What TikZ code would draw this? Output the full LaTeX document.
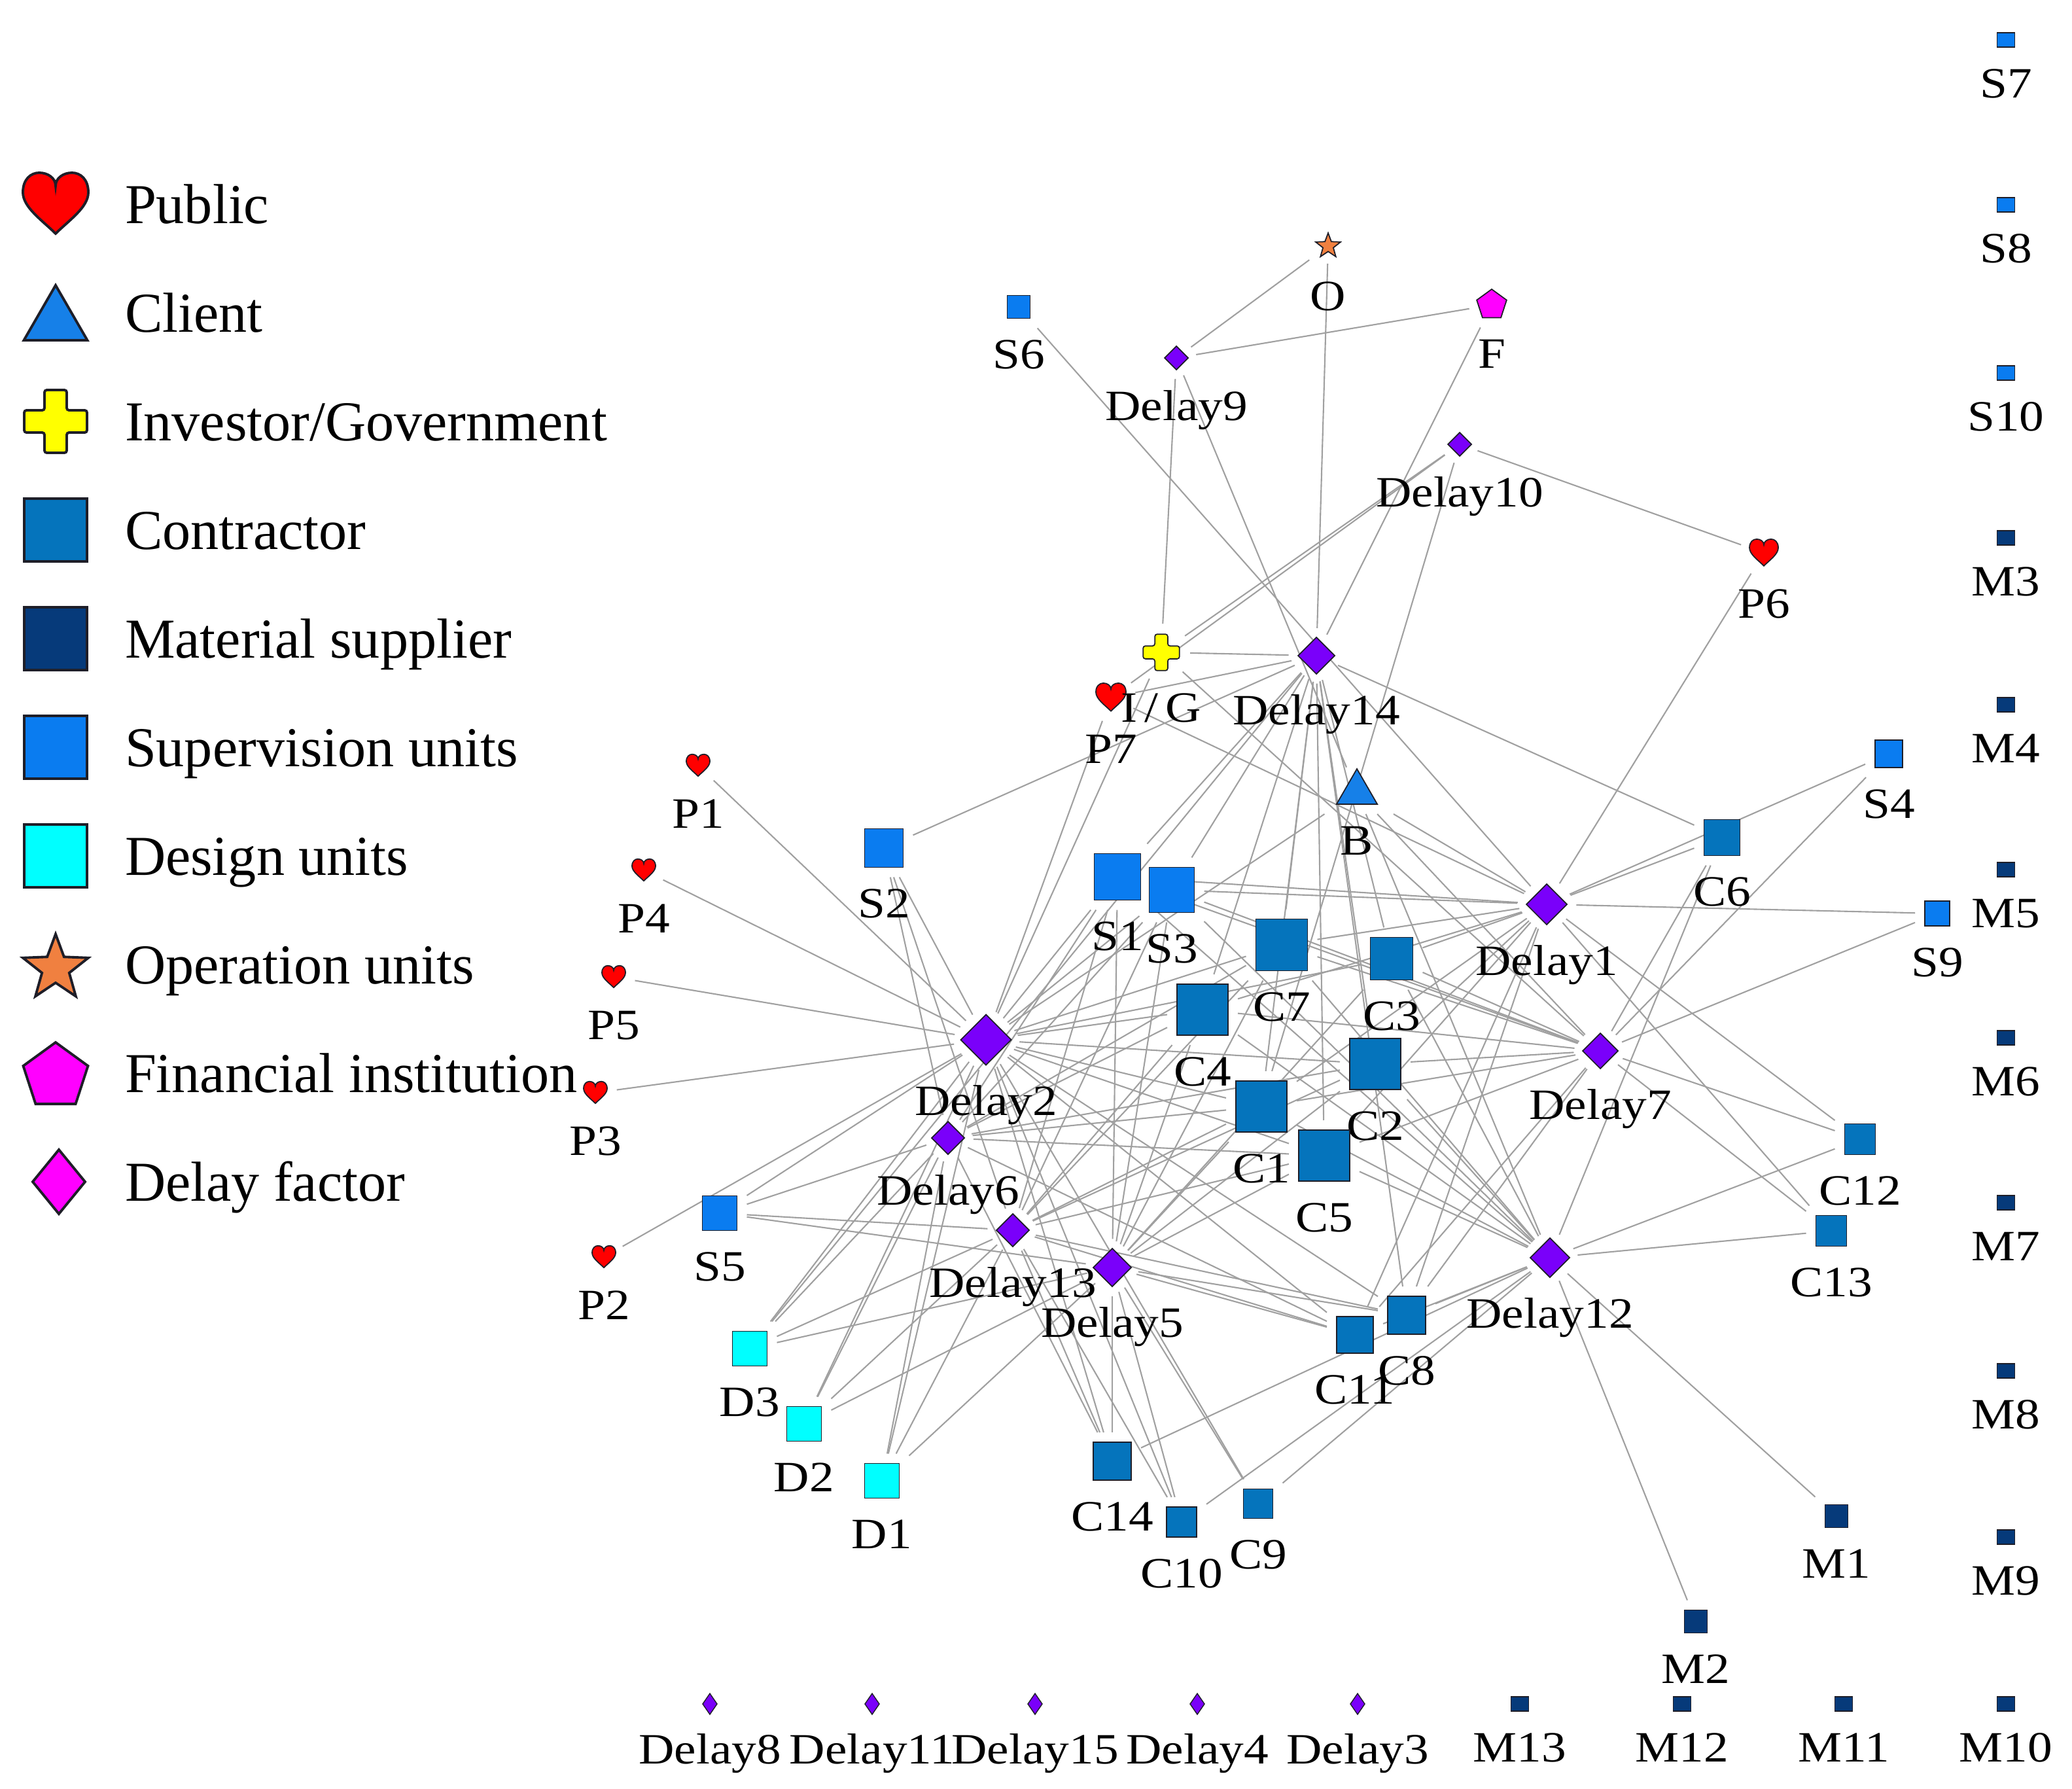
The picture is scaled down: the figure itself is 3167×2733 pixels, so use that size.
\documentclass[tikz,border=0pt]{standalone}
\usepackage{fontspec}
\setmainfont{Liberation Serif}
\newfontfamily\lblfont{Liberation Serif}[FakeStretch=1.14]
\usetikzlibrary{shapes.geometric}
\definecolor{pubc}{RGB}{255,0,0}
\definecolor{clic}{RGB}{22,128,232}
\definecolor{invc}{RGB}{255,255,0}
\definecolor{conc}{RGB}{5,116,188}
\definecolor{matc}{RGB}{6,58,122}
\definecolor{supc}{RGB}{10,124,240}
\definecolor{desc}{RGB}{0,255,255}
\definecolor{opc}{RGB}{240,128,64}
\definecolor{finc}{RGB}{255,0,255}
\definecolor{delc}{RGB}{122,0,250}
\definecolor{bord}{RGB}{30,30,40}
\definecolor{linkc}{RGB}{160,160,160}
\pgfdeclarelayer{bg}
\pgfsetlayers{bg,main}
\tikzset{
  pics/heartshape/.style={code={
    \path[draw=bord,fill=pubc] (0,45) .. controls (-20,25) and (-50,5) .. (-50,-18)
      .. controls (-50,-38) and (-38,-48) .. (-25,-48)
      .. controls (-12,-48) and (0,-40) .. (0,-28)
      .. controls (0,-40) and (12,-48) .. (25,-48)
      .. controls (38,-48) and (50,-38) .. (50,-18)
      .. controls (50,5) and (20,25) .. (0,45) -- cycle;}},
  pics/plusshape/.style={code={
    \path[draw=bord,fill=invc,rounded corners=1pt] (-17,-48) -- (17,-48) -- (17,-17) -- (48,-17)
      -- (48,17) -- (17,17) -- (17,48) -- (-17,48) -- (-17,17) -- (-48,17) -- (-48,-17) -- (-17,-17) -- cycle;}}
}

\begin{document}
\begin{tikzpicture}[x=0.01cm,y=-0.01cm,
  every node/.style={inner sep=0pt,outer sep=0.15cm},
  label distance=0.17cm,
  lbl/.style={font=\lblfont\fontsize{18.8pt}{20pt}\selectfont,text height=0.45cm,text depth=0.13cm,outer sep=0pt},
  dlbl/.style={lbl,label distance=0.32cm},
  leg/.style={font=\fontsize{24.5pt}{28pt}\selectfont,anchor=base west,outer sep=0pt},
  box/.style={rectangle,draw=bord,line width=0.5pt},
  con/.style={box,fill=conc,minimum size=#1cm},
  sup/.style={box,fill=supc,minimum size=#1cm},
  mat/.style={box,fill=matc,minimum size=#1cm},
  des/.style={box,fill=desc,minimum size=#1cm},
  dot/.style={box,minimum width=0.27cm,minimum height=0.22cm},
  dly/.style={diamond,aspect=1,draw=bord,line width=0.5pt,fill=delc,minimum size=#1cm,outer sep=0pt},
  tipdly/.style={diamond,draw=bord,line width=0.4pt,fill=delc,minimum width=0.22cm,minimum height=0.32cm,
    outer sep=0pt},
  hub/.style={circle,minimum size=#1cm},
  link/.style={draw=linkc,line width=0.6pt,shorten <=0.15cm},
  lgicon/.style={line width=1.1pt,draw=bord}
]
\useasboundingbox (0,0) rectangle (3167,2733);

%% legend
\node[hub=1] (lgpub) at (85,312) {};
\pic[scale=1,line width=1.1pt] at (lgpub) {heartshape};
\node[regular polygon,regular polygon sides=3,lgicon,fill=clic,minimum size=1.12cm] (lgcli) at (85,492) {};
\node[hub=1] (lginv) at (85,644) {};
\pic[scale=1,line width=1.1pt] at (lginv) {plusshape};
\node[box,lgicon,fill=conc,minimum size=0.96cm] (lgcon) at (85,810) {};
\node[box,lgicon,fill=matc,minimum size=0.96cm] (lgmat) at (85,976) {};
\node[box,lgicon,fill=supc,minimum size=0.96cm] (lgsup) at (85,1142) {};
\node[box,lgicon,fill=desc,minimum size=0.96cm] (lgdes) at (85,1308) {};
\node[star,star points=5,star point ratio=2.4,lgicon,fill=opc,minimum size=1.05cm] (lgop) at (85,1480) {};
\node[regular polygon,regular polygon sides=5,lgicon,fill=finc,minimum size=1.04cm] (lgfin) at (85,1645) {};
\node[diamond,lgicon,fill=finc,outer sep=0pt,minimum width=0.8cm,minimum height=0.98cm] (lgdel) at (90,1806) {};
\node[leg] (tpub) at (191,341) {Public};
\node[leg] (tcli) at (191,507) {Client};
\node[leg] (tinv) at (191,673) {Investor/Government};
\node[leg] (tcon) at (191,839) {Contractor};
\node[leg] (tmat) at (191,1005) {Material supplier};
\node[leg] (tsup) at (191,1171) {Supervision units};
\node[leg] (tdes) at (191,1337) {Design units};
\node[leg] (top) at (191,1503) {Operation units};
\node[leg] (tfin) at (191,1669) {Financial institution};
\node[leg] (tdel) at (191,1835) {Delay factor};

%% isolated nodes
\foreach \n/\y in {S7/61,S8/313,S10/570}
  \node[dot,fill=supc,label={[lbl]below:\n}] (\n) at (3066,\y) {};
\foreach \n/\y in {M3/822,M4/1077,M5/1329,M6/1586,M7/1838,M8/2095,M9/2349,M10/2604}
  \node[dot,fill=matc,label={[lbl]below:\n}] (\n) at (3066,\y) {};
\foreach \n/\x in {M13/2323,M12/2571,M11/2818}
  \node[dot,fill=matc,label={[lbl]below:\n}] (\n) at (\x,2604) {};
\foreach \n/\x in {Delay8/1085,Delay11/1333,Delay15/1582,Delay4/1830,Delay3/2075}
  \node[tipdly,label={[lbl,label distance=0.3cm]below:\n}] (\n) at (\x,2604) {};

%% stakeholders
\foreach \n/\x/\y/\s in {P1/1067/1170/0.36,P4/984/1330/0.36,P5/938/1493/0.36,P3/910/1670/0.36,
    P2/923/1921/0.36,P6/2696/845/0.44,P7/1698/1066/0.46}{
  \node[hub=\s,label={[lbl]below:\n}] (\n) at (\x,\y) {};
  \pic[scale=\s,line width=0.5pt] at (\n) {heartshape};}
\node[hub=0.58,label={[lbl]below:I\,/\,G}] (IG) at (1775,997) {};
\pic[scale=0.58,line width=0.5pt] at (IG) {plusshape};
\node[star,star points=5,star point ratio=2.4,draw=bord,line width=0.5pt,fill=opc,minimum size=0.4cm,
  label={[lbl,label distance=0.27cm]below:O}] (O) at (2030,376) {};
\node[regular polygon,regular polygon sides=5,draw=bord,line width=0.5pt,fill=finc,minimum size=0.48cm,
  label={[lbl]below:F}] (F) at (2280,466) {};
\node[regular polygon,regular polygon sides=3,draw=bord,line width=0.5pt,fill=clic,minimum size=0.72cm,
  label={[lbl]below:B}] (B) at (2074,1211) {};
\foreach \n/\x/\y/\s in {S1/1708/1340/0.71,S2/1351/1296/0.59,S3/1791/1360/0.69,S4/2887/1152/0.42,
    S5/1100/1854/0.53,S6/1557/469/0.35,S9/2961/1396/0.38}
  \node[sup=\s,label={[lbl]below:\n}] (\n) at (\x,\y) {};
\foreach \n/\x/\y/\s in {C1/1928/1691/0.78,C2/2102/1626/0.78,C3/2127/1465/0.65,C4/1838/1543/0.78,
    C5/2024/1766/0.78,C6/2632/1280/0.55,C7/1959/1444/0.79,C8/2150/2010/0.58,C9/1923/2298/0.45,
    C10/1806/2326/0.46,C11/2071/2040/0.56,C12/2843/1741/0.47,C13/2799/1881/0.47,C14/1700/2233/0.58}
  \node[con=\s,label={[lbl]below:\n}] (\n) at (\x,\y) {};
\foreach \n/\x/\y in {D1/1348/2263,D2/1229/2176,D3/1146/2061}
  \node[des=0.53,label={[lbl]below:\n}] (\n) at (\x,\y) {};
\foreach \n/\x/\y in {M1/2807/2317,M2/2592/2478}
  \node[mat=0.35,label={[lbl]below:\n}] (\n) at (\x,\y) {};

%% delay factors
\foreach \n/\x/\y/\s/\t in {dl1/2364/1382/0.62/Delay1,dl2/1507/1589/0.77/Delay2,dl5/1700/1937/0.58/Delay5,
    dl6/1449/1739/0.50/Delay6,dl7/2446/1606/0.54/Delay7,dl9/1798/547/0.36/Delay9,
    dl10/2231/679/0.36/Delay10,dl12/2369/1922/0.60/Delay12,dl13/1548/1880/0.50/Delay13,
    dl14/2012/1002/0.56/Delay14}
  \node[dly=\s,label={[dlbl]below:\t}] (\n) at (\x,\y) {};

%% links
\begin{pgfonlayer}{bg}
\foreach \d/\lst in {
    dl9/{O,F,IG,B},
    dl10/{P6,IG,P7,C1},
    dl14/{O,F,IG,S2,P7,S1,S3,C4,C7,C1,C5,C2,C3,C6,C8,D3},
    dl1/{P6,S4,C6,S9,C12,C13,S6,P7,B,S1,S3,C7,C3,C4,C2,C1,C5,C8,C11},
    dl7/{S4,S9,C6,C12,C13,IG,S1,S3,C7,C3,C4,C2,C1,C5,C11,C8,B},
    dl12/{C6,C12,C13,M1,M2,C8,C11,C10,C9,C14,S1,S3,C7,C3,C4,C1,C2,C5,B},
    dl2/{P1,P4,P5,P3,P2,S2,S5,P7,IG,S1,S3,C7,C4,C3,C2,C1,C5,B,D1,D2,D3,C14,C10,C9,C11,C8},
    dl6/{S2,D1,D2,D3,S5,C1,C2,C5,C4,C7,S1,S3,C14,C11},
    dl13/{S5,S2,D1,D2,D3,C1,C4,C5,C2,C7,S1,S3,C14,C10,C11,C8},
    dl5/{S5,D1,D2,D3,C14,C10,C9,C11,C8,C1,C5,C2,C4,C7,S1,S3,C3}}
  {\foreach \a in \lst {\draw[link] (\d) -- (\a);}}
\end{pgfonlayer}
\end{tikzpicture}
\end{document}
